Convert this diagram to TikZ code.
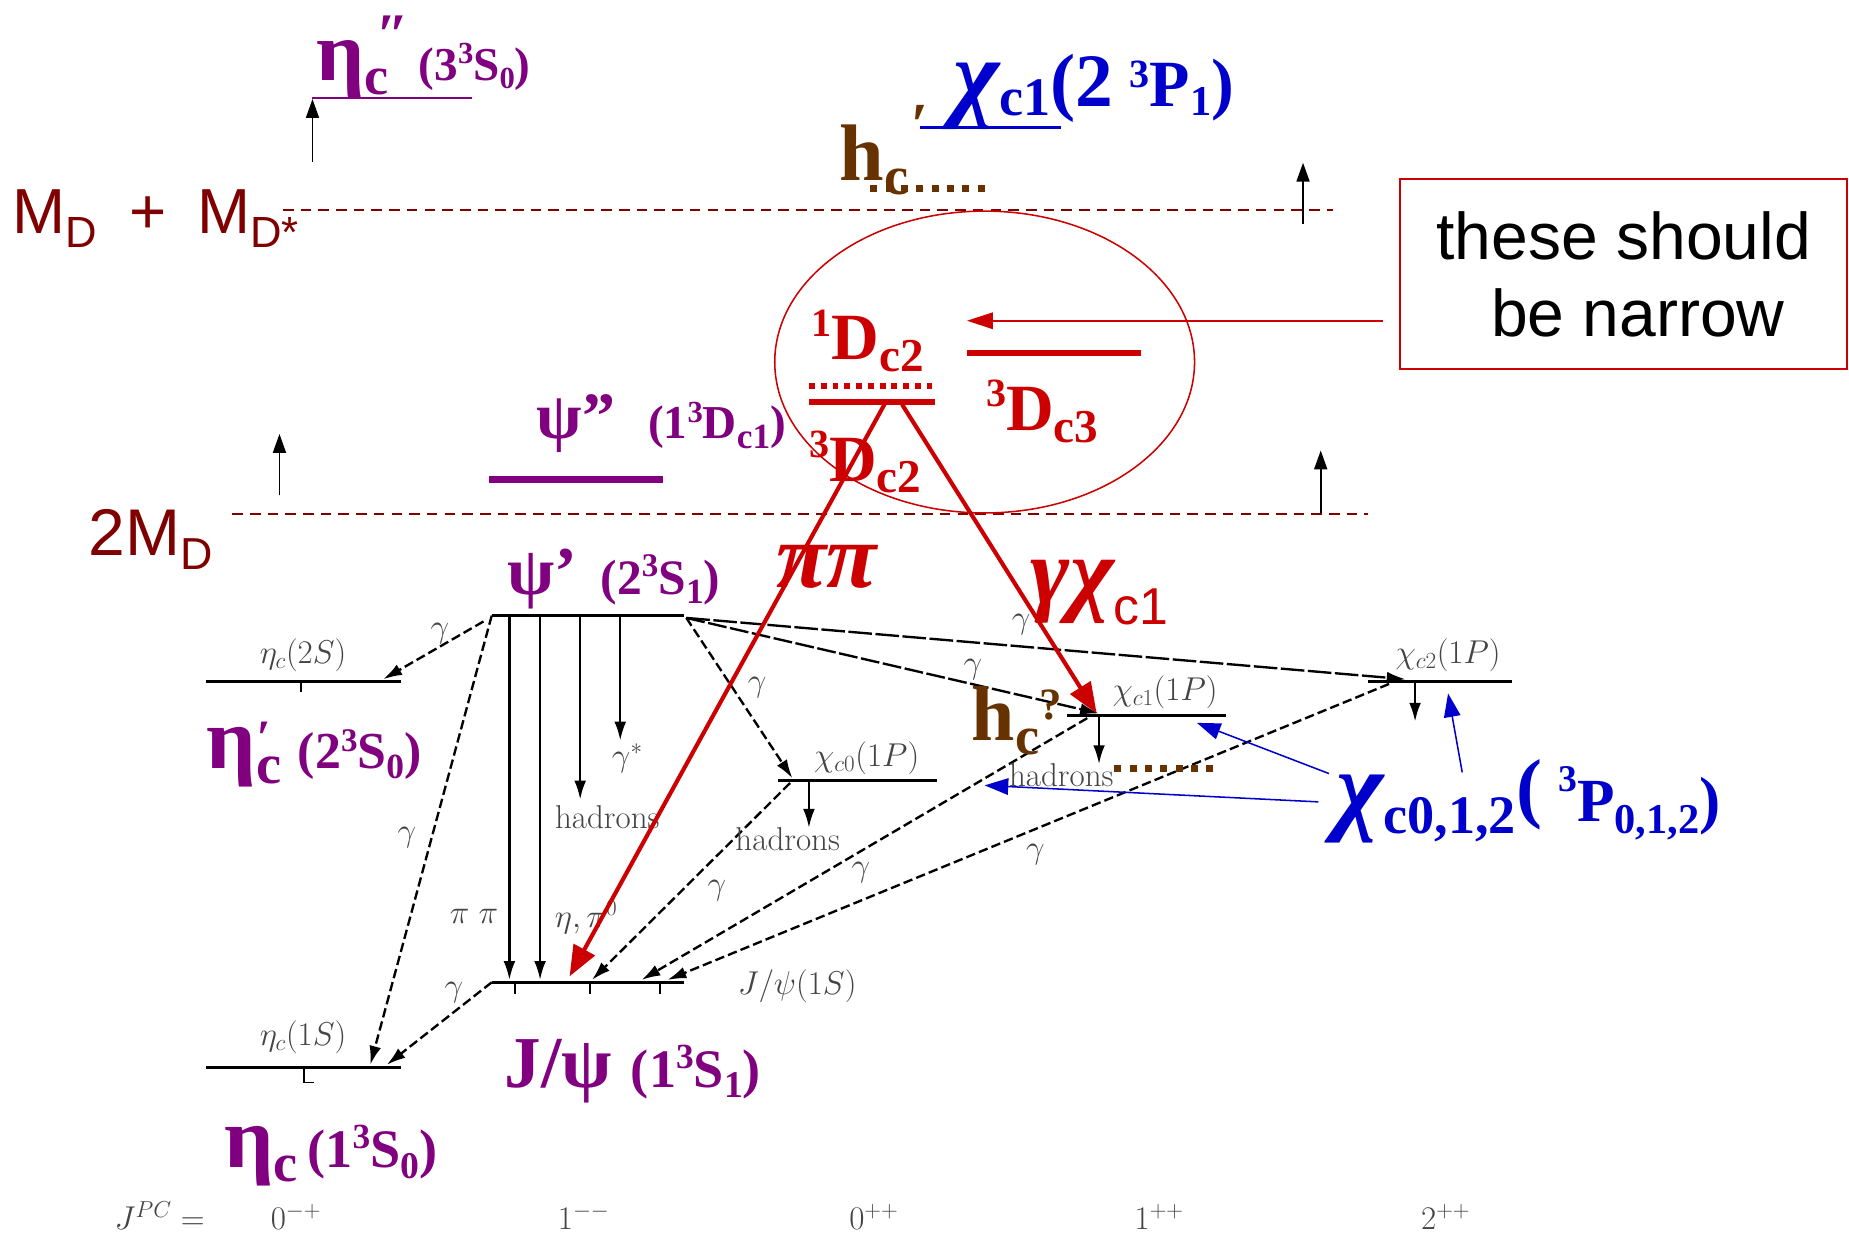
\RequirePackage{fix-cm}
\documentclass[tikz,border=0pt]{standalone}
\usepackage{fontspec}
\usetikzlibrary{arrows.meta,shapes.geometric}
\newfontfamily\tms{Liberation Serif}
\newfontfamily\ars{Liberation Sans}
\definecolor{purp}{HTML}{800080}
\definecolor{blu}{HTML}{0000CC}
\definecolor{rd}{HTML}{CC0000}
\definecolor{drd}{HTML}{800000}
\definecolor{brn}{HTML}{663300}
\definecolor{gtx}{HTML}{444444}
\newcommand\fsz[1]{\fontsize{#1}{#1}\selectfont}
\newcommand\dn[2]{\raisebox{-#1pt}{#2}}
\newcommand\up[2]{\raisebox{#1pt}{#2}}
\begin{document}
\begin{tikzpicture}[x=1pt,y=-1pt,
  lvl/.style={line width=2.6pt},
  lvtick/.style={line width=1.6pt},
  ph/.style={line width=2pt, dash pattern=on 8pt off 3.5pt, -{Latex[length=16pt,width=10pt]}},
  sol/.style={line width=2pt, -{Latex[length=16pt,width=10pt]}},
  sm/.style={font=\fsz{28}, text=gtx, inner sep=0pt},
  lab/.style={inner sep=0pt, anchor=base west},
  thr/.style={drd, line width=1.8pt, dash pattern=on 9pt off 6pt},
  upar/.style={line width=1.5pt, -{Triangle[length=16pt,width=11pt]}},
  redarr/.style={rd, line width=3.5pt, -{Triangle[length=26pt,width=20pt]}},
  bluarr/.style={blu, line width=1.3pt, -{Triangle[length=20pt,width=14pt]}},
  sqdots/.style={line width=6pt, dash pattern=on 6pt off 7pt},
]
\useasboundingbox (0,0) rectangle (1568,1050);

% ---------- levels of the black diagram ----------
\coordinate (e2L) at (175,578); \coordinate (e2R) at (340,578);
\coordinate (pL) at (417,522);  \coordinate (pR) at (580,522);
\coordinate (jL) at (417,833);  \coordinate (jR) at (580,833);
\coordinate (e1L) at (175,905); \coordinate (e1R) at (340,905);
\coordinate (c0L) at (660,662); \coordinate (c0R) at (795,662);
\coordinate (c1L) at (905,607); \coordinate (c1R) at (1040,607);
\coordinate (c2L) at (1160,578); \coordinate (c2R) at (1282,578);
\foreach \a/\b in {e2L/e2R,pL/pR,jL/jR,e1L/e1R,c0L/c0R,c1L/c1R,c2L/c2R}
  \draw[lvl] (\a) -- (\b);

% ticks
\draw[lvtick] (255,578) -- (255,587);
\draw[lvtick] (258,905) -- (258,918) -- (266,918);
\foreach \x in {437,500,560} \draw[lvtick] (\x,833) -- (\x,843);

% ---------- photon / transition arrows ----------
\coordinate (p1) at (410,527);  \coordinate (e2t) at (325,576);
\coordinate (e1t) at (314,903); \coordinate (e1u) at (328,903);
\coordinate (pRa) at (582,524);
\coordinate (c0t) at (672,660); \coordinate (c1t) at (932,605); \coordinate (c2t) at (1192,576);
\coordinate (c0s) at (670,664); \coordinate (c1s) at (922,609); \coordinate (c2s) at (1178,580);
\coordinate (jt1) at (502,831); \coordinate (jt2) at (544,831); \coordinate (jt3) at (566,831);
\draw[ph] (p1) -- (e2t);
\draw[ph] (pL) -- (e1t);
\draw[ph] (jL) -- (e1u);
\draw[ph] (pRa) -- (c0t);
\draw[ph, dash pattern=on 16pt off 3pt] (pRa) -- (c1t);
\draw[ph, dash pattern=on 20pt off 3pt] (pRa) -- (c2t);
\draw[ph] (c0s) -- (jt1);
\draw[ph] (c1s) -- (jt2);
\draw[ph] (c2s) -- (jt3);

% vertical decays
\coordinate (v1s) at (432,522); \coordinate (v1e) at (432,831);
\coordinate (v2s) at (458,522); \coordinate (v2e) at (458,831);
\coordinate (v3s) at (492,522); \coordinate (v3e) at (492,678);
\coordinate (v4s) at (526,522); \coordinate (v4e) at (526,628);
\coordinate (v5s) at (686,662); \coordinate (v5e) at (686,702);
\coordinate (v6s) at (932,607); \coordinate (v6e) at (932,648);
\coordinate (v7s) at (1200,578); \coordinate (v7e) at (1200,612);
\foreach \i in {1,...,7} \draw[sol] (v\i s) -- (v\i e);

% small labels
\node[sm] (lg1) at (373,537) {$\gamma$};
\node[sm] (lg2) at (345,710) {$\gamma$};
\node[sm] (lg3) at (385,842) {$\gamma$};
\node[sm] (lg4) at (642,583) {$\gamma$};
\node[sm] (lg5) at (825,568) {$\gamma$};
\node[sm] (lg6) at (866,530) {$\gamma$};
\node[sm] (lg7) at (608,755) {$\gamma$};
\node[sm] (lg8) at (730,740) {$\gamma$};
\node[sm] (lg9) at (878,725) {$\gamma$};
\node[sm] (lpp) at (402,777) {$\pi\;\pi$};
\node[sm] (leta) at (497,778) {$\eta,\pi^0$};
\node[sm] (lhad1) at (515,693) {hadrons};
\node[sm] (lgs) at (532,643) {$\gamma^*$};
\node[sm] (lhad2) at (668,712) {hadrons};
\node[sm] (lhad3) at (900,657) {hadrons};
\node[sm] (ne2) at (257,556) {$\eta_c(2S)$};
\node[sm] (ne1) at (257,880) {$\eta_c(1S)$};
\node[sm] (nj) at (676,836) {$J/\psi(1S)$};
\node[sm] (nc0) at (735,643) {$\chi_{c0}(1P)$};
\node[sm] (nc1) at (988,587) {$\chi_{c1}(1P)$};
\node[sm] (nc2) at (1228,556) {$\chi_{c2}(1P)$};
\node[sm,anchor=base west] (jpc) at (97,1043) {$J^{PC}=$};
\node[sm,anchor=base] (q1) at (251,1043) {$0^{-+}$};
\node[sm,anchor=base] (q2) at (495,1043) {$1^{--}$};
\node[sm,anchor=base] (q3) at (741,1043) {$0^{++}$};
\node[sm,anchor=base] (q4) at (983,1043) {$1^{++}$};
\node[sm,anchor=base] (q5) at (1226,1043) {$2^{++}$};

% ---------- thresholds ----------
\coordinate (t1a) at (240,178); \coordinate (t1b) at (1130,178);
\coordinate (t2a) at (197,436); \coordinate (t2b) at (1160,436);
\draw[thr] (t1a) -- (t1b);
\draw[thr] (t2a) -- (t2b);
\node[lab, text=drd, font=\ars] (mdd) at (10,198)
  {\fsz{54}M\dn{12}{\fsz{37}D}\hspace{28pt}+\hspace{26pt}M\dn{12}{\fsz{37}D*}};
\node[lab, text=drd, font=\ars] (tmd) at (75,471) {\fsz{56}2M\dn{12}{\fsz{38}D}};
\coordinate (ua1s) at (265,137); \coordinate (ua1e) at (265,84);
\coordinate (ua2s) at (1105,190); \coordinate (ua2e) at (1105,138);
\coordinate (ua3s) at (237,420); \coordinate (ua3e) at (237,368);
\coordinate (ua4s) at (1120,435); \coordinate (ua4e) at (1120,382);
\foreach \i in {1,...,4} \draw[upar] (ua\i s) -- (ua\i e);

% ---------- top states ----------
\coordinate (eppa) at (265,83); \coordinate (eppb) at (400,83);
\draw[purp, line width=1.2pt] (eppa) -- (eppb);
\node[lab, text=purp, font=\tms\bfseries] (etacpp) at (268,68)
  {\fsz{72}η\dn{12}{\fsz{46}c}\hspace{-10pt}\up{22}{\fsz{50}\itshape ″}\hspace{8pt}\fsz{40}(3\up{14}{\fsz{26}3}S\dn{7}{\fsz{26}0})};

\coordinate (ula) at (780,108); \coordinate (ulb) at (900,108);
\draw[blu, line width=3pt] (ula) -- (ulb);
\node[lab, text=blu, font=\tms\bfseries] (chi2p) at (808,90)
  {\dn{2}{\fsz{84}\itshape χ}\dn{8}{\fsz{46}c1}\fsz{64}(2\hspace{14pt}\up{16}{\fsz{34}3}\fsz{56}P\dn{8}{\fsz{36}1}\fsz{58})};

\node[lab, text=brn, font=\tms\bfseries] (hcp) at (712,153)
  {\fsz{68}h\dn{12}{\fsz{46}c}\hspace{2pt}\up{30}{\fsz{52}\itshape ′}};
\coordinate (hda) at (738,160); \coordinate (hdb) at (842,160);
\draw[brn, sqdots] (hda) -- (hdb);

% ---------- D-wave states ----------
\node[draw=rd, line width=1.3pt, ellipse, minimum width=356pt, minimum height=256pt, inner sep=0pt] (ell) at (835,307) {};
\coordinate (d1a) at (686,327); \coordinate (d1b) at (790,327);
\draw[rd, line width=5pt, dash pattern=on 5pt off 5pt] (d1a) -- (d1b);
\coordinate (d2a) at (686,341); \coordinate (d2b) at (793,341);
\draw[rd, line width=5pt] (d2a) -- (d2b);
\coordinate (d3a) at (820,299); \coordinate (d3b) at (968,299);
\draw[rd, line width=5pt] (d3a) -- (d3b);
\node[lab, text=rd, font=\tms\bfseries] (l1d2) at (688,305)
  {\up{20}{\fsz{34}1}\fsz{56}D\dn{10}{\fsz{40}c2}};
\node[lab, text=rd, font=\tms\bfseries] (l3d3) at (836,365)
  {\up{20}{\fsz{34}3}\fsz{56}D\dn{10}{\fsz{40}c3}};
\node[lab, text=rd, font=\tms\bfseries] (l3d2) at (686,408)
  {\up{20}{\fsz{34}3}\fsz{56}D\dn{10}{\fsz{40}c2}};

\coordinate (psa) at (415,407); \coordinate (psb) at (562,407);
\draw[purp, line width=6pt] (psa) -- (psb);
\node[lab, text=purp, font=\tms\bfseries] (psipp) at (455,372)
  {\fsz{56}ψ”\hspace{28pt}\fsz{40}(1\up{14}{\fsz{26}3}D\dn{8}{\fsz{30}c1})};

% ---------- box ----------
\node[draw=rd, line width=1.5pt, minimum width=379pt, minimum height=161pt, inner sep=0pt] (box) at (1376.5,232.5) {};
\node[font=\ars\fsz{56}, anchor=base, inner sep=0pt] (bt1) at (1377,220) {these should};
\node[font=\ars\fsz{56}, anchor=base, inner sep=0pt] (bt2) at (1389,285) {be narrow};
\coordinate (ba) at (1173,272); \coordinate (bb) at (820,272);
\draw[rd, line width=1.3pt, -{Triangle[length=22pt,width=14pt]}] (ba) -- (bb);

% ---------- red transitions ----------
\coordinate (r1s) at (750,343); \coordinate (r1e) at (483,828);
\coordinate (r2s) at (765,343); \coordinate (r2e) at (930,605);
\draw[redarr] (r1s) -- (r1e);
\draw[redarr] (r2s) -- (r2e);
\node[lab, text=rd, font=\tms\bfseries\itshape] (lpipi) at (658,498) {\fsz{78}ππ};
\node[lab, text=rd, font=\tms\bfseries\itshape] (lgchi) at (874,512)
  {\fsz{80}γχ\dn{18}{\ars\mdseries\upshape\fsz{44}c1}};

% ---------- main state labels ----------
\node[lab, text=purp, font=\tms\bfseries] (psip) at (430,504)
  {\fsz{58}ψ’\hspace{20pt}\fsz{42}(2\up{15}{\fsz{28}3}S\dn{8}{\fsz{30}1})};
\node[lab, text=purp, font=\tms\bfseries] (etacp) at (175,652)
  {\fsz{74}η\rlap{\up{12}{\fsz{42}\itshape ′}}\dn{12}{\fsz{48}c}\hspace{14pt}\fsz{44}(2\up{15}{\fsz{28}3}S\dn{8}{\fsz{30}0})};
\node[lab, text=purp, font=\tms\bfseries] (jpsi) at (428,922)
  {\fsz{62}J/ψ\hspace{16pt}\fsz{46}(1\up{16}{\fsz{30}3}S\dn{9}{\fsz{32}1})};
\node[lab, text=purp, font=\tms\bfseries] (etac) at (190,990)
  {\fsz{74}η\dn{12}{\fsz{46}c}\hspace{8pt}\fsz{46}(1\up{16}{\fsz{30}3}S\dn{9}{\fsz{32}0})};

\node[lab, text=brn, font=\tms\bfseries] (hcq) at (824,628)
  {\fsz{66}h\dn{12}{\fsz{46}c}\up{18}{\fsz{38}?}};
\coordinate (hqa) at (945,652); \coordinate (hqb) at (1032,652);
\draw[brn, sqdots] (hqa) -- (hqb);

\node[lab, text=blu, font=\tms\bfseries] (chip) at (1133,697)
  {\fsz{86}\itshape χ\upshape\dn{10}{\fsz{46}c0,1,2}\up{7}{\fsz{66}(}\hspace{14pt}\up{26}{\fsz{32}3}\fsz{52}P\dn{10}{\fsz{36}0,1,2}\fsz{54})};
\coordinate (bA) at (1118,680); \coordinate (bAe) at (835,666);
\coordinate (bB) at (1127,656); \coordinate (bBe) at (1015,613);
\coordinate (bC) at (1240,655); \coordinate (bCe) at (1228,588);
\draw[bluarr] (bA) -- (bAe);
\draw[bluarr] (bB) -- (bBe);
\draw[bluarr] (bC) -- (bCe);
\end{tikzpicture}
\end{document}
